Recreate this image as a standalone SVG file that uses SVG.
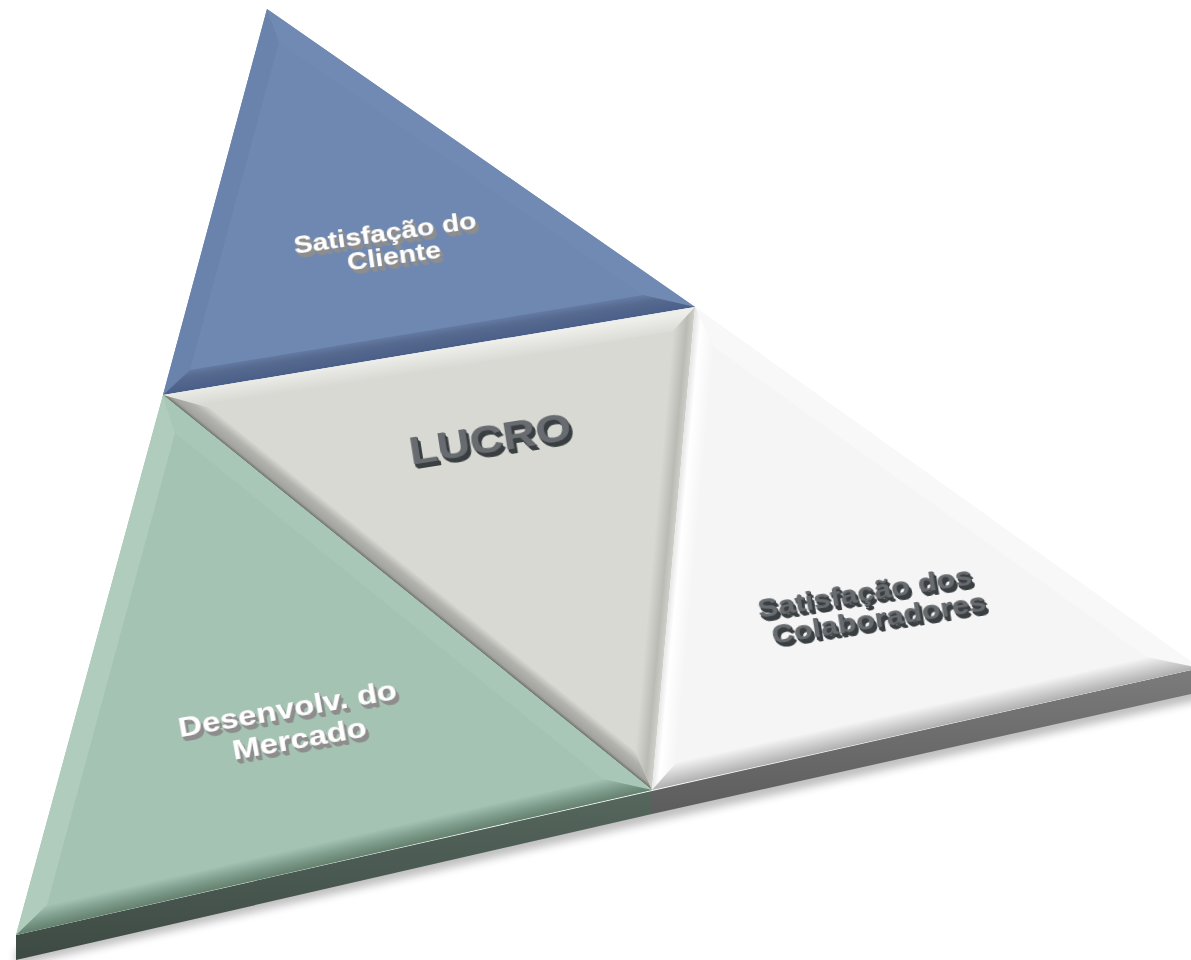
<svg xmlns="http://www.w3.org/2000/svg" width="1191" height="960" viewBox="0 0 1191 960">
<defs>
<style>
.lbl{font-family:"Liberation Sans",Arial,sans-serif;font-weight:bold;text-anchor:middle}
.w{fill:#ffffff}
.d{fill:#686c70}
</style>
<filter id="extW" x="-20%" y="-40%" width="140%" height="180%">
<feFlood flood-color="#8d8d8d" result="f"/>
<feComposite in="f" in2="SourceAlpha" operator="in" result="c"/>
<feOffset in="c" dx="0.6" dy="1.3" result="o1"/>
<feOffset in="c" dx="1.2" dy="2.6" result="o2"/>
<feOffset in="c" dx="1.8" dy="3.9" result="o3"/>
<feOffset in="c" dx="2.2" dy="4.6" result="o4"/>
<feMerge><feMergeNode in="o4"/><feMergeNode in="o3"/><feMergeNode in="o2"/><feMergeNode in="o1"/><feMergeNode in="SourceGraphic"/></feMerge>
</filter>
<filter id="extD" x="-20%" y="-40%" width="140%" height="180%">
<feFlood flood-color="#3a3f42" result="f"/>
<feComposite in="f" in2="SourceAlpha" operator="in" result="c"/>
<feOffset in="c" dx="0.6" dy="1.3" result="o1"/>
<feOffset in="c" dx="1.2" dy="2.6" result="o2"/>
<feOffset in="c" dx="1.8" dy="3.9" result="o3"/>
<feOffset in="c" dx="2.2" dy="4.6" result="o4"/>
<feMerge><feMergeNode in="o4"/><feMergeNode in="o3"/><feMergeNode in="o2"/><feMergeNode in="o1"/><feMergeNode in="SourceGraphic"/></feMerge>
</filter>
<filter id="blur" x="-10%" y="-50%" width="120%" height="200%"><feGaussianBlur stdDeviation="4"/></filter>
<linearGradient id="gBlueB" gradientUnits="userSpaceOnUse" x1="429" y1="351" x2="424.8" y2="325.3"><stop offset="0" stop-color="#4a5f88"/><stop offset="0.5" stop-color="#56698f"/><stop offset="1" stop-color="#6f88b1"/></linearGradient>
<linearGradient id="gGrayL" gradientUnits="userSpaceOnUse" x1="407.5" y1="592.5" x2="420.1" y2="576.9"><stop offset="0" stop-color="#6c6f6b"/><stop offset="0.18" stop-color="#a2a39e"/><stop offset="0.6" stop-color="#b2b3ad"/><stop offset="1" stop-color="#d8d9d3"/></linearGradient>
<linearGradient id="gGrayR" gradientUnits="userSpaceOnUse" x1="673.5" y1="548.5" x2="653.6" y2="546.7"><stop offset="0" stop-color="#cfd0ca"/><stop offset="0.35" stop-color="#babbb5"/><stop offset="1" stop-color="#d8d9d3"/></linearGradient>
<linearGradient id="gGrayT" gradientUnits="userSpaceOnUse" x1="429" y1="351" x2="432" y2="371"><stop offset="0" stop-color="#eeeeea"/><stop offset="1" stop-color="#d8d9d3"/></linearGradient>
<linearGradient id="gWhiteB" gradientUnits="userSpaceOnUse" x1="926" y1="729" x2="921.2" y2="707.5"><stop offset="0" stop-color="#b0b0b0"/><stop offset="0.5" stop-color="#d2d2d2"/><stop offset="1" stop-color="#f5f5f5"/></linearGradient>
<linearGradient id="gWhiteL" gradientUnits="userSpaceOnUse" x1="673.5" y1="548.5" x2="695.4" y2="550.5"><stop offset="0" stop-color="#e6e6e6"/><stop offset="0.3" stop-color="#ffffff"/><stop offset="1" stop-color="#f5f5f5"/></linearGradient>
<linearGradient id="gGreenB" gradientUnits="userSpaceOnUse" x1="334" y1="862.5" x2="329.1" y2="841"><stop offset="0" stop-color="#64806f"/><stop offset="0.5" stop-color="#819f8e"/><stop offset="1" stop-color="#a4c3b2"/></linearGradient>
<linearGradient id="gSideG" x1="0" y1="0" x2="0" y2="1"><stop offset="0" stop-color="#56675e"/><stop offset="1" stop-color="#3d4a43"/></linearGradient>
<linearGradient id="gSideW" x1="0" y1="0" x2="0" y2="1"><stop offset="0" stop-color="#7c7c7c"/><stop offset="1" stop-color="#5c5c5c"/></linearGradient>
</defs>
<rect width="1191" height="960" fill="#ffffff"/>
<polygon points="16,950 652,806 1200,684 1200,700 652,822 16,966" fill="#000" opacity="0.25" filter="url(#blur)"/>

<g id="node-cliente">
<polygon points="267,9 695,307 163,395" fill="#6f88b1"/>
<polygon points="267,9 163,395 190,370 279,42" fill="#6a83ad"/>
<polygon points="267,9 695,307 643,295 279,42" fill="#718ab3"/>
<polygon points="163,395 695,307 643,295 190,370" fill="url(#gBlueB)"/>
<text class="lbl w" filter="url(#extW)" font-size="24" transform="translate(386,241) rotate(-8) scale(1.18,1)">Satisfação do</text>
<text class="lbl w" filter="url(#extW)" font-size="24" transform="translate(395,264) rotate(-8) scale(1.18,1)">Cliente</text>
</g>

<g id="node-lucro">
<polygon points="163,395 695,307 652,790" fill="#d8d9d3"/>
<polygon points="163,395 695,307 673,331 210,408" fill="url(#gGrayT)"/>
<polygon points="163,395 652,790 635,751 210,408" fill="url(#gGrayL)"/>
<polygon points="695,307 652,790 635,751 673,331" fill="url(#gGrayR)"/>
<text class="lbl d" filter="url(#extD)" font-size="39" transform="translate(492,452) rotate(-9) scale(1.18,1)" fill="#62676b">LUCRO</text>
</g>

<g id="node-colaboradores">
<polygon points="16,935 652,791 652,814 16,960" fill="url(#gSideG)"/>
<polygon points="652,791 1200,668 1200,692 652,814" fill="url(#gSideW)"/>
<polygon points="695,307 1200,668 652,790" fill="#f5f5f5"/>
<polygon points="695,307 1200,668 1147,657 714,347" fill="#f8f8f8"/>
<polygon points="695,307 652,790 677,762 714,347" fill="url(#gWhiteL)"/>
<polygon points="652,790 1200,668 1147,657 677,762" fill="url(#gWhiteB)"/>
<text class="lbl d" filter="url(#extD)" font-size="26" transform="translate(866,601) rotate(-9) scale(1.18,1)">Satisfação dos</text>
<text class="lbl d" filter="url(#extD)" font-size="26" transform="translate(880,627) rotate(-9) scale(1.18,1)">Colaboradores</text>
</g>

<g id="node-mercado">
<polygon points="163,395 652,790 16,935" fill="#a4c3b2"/>
<polygon points="163,395 16,935 47,905 175,433" fill="#afccbc"/>
<polygon points="163,395 652,790 603,779 175,433" fill="#a8c7b6"/>
<polygon points="16,935 652,790 603,779 47,905" fill="url(#gGreenB)"/>
<text class="lbl w" filter="url(#extW)" font-size="28" transform="translate(289,718) rotate(-10) scale(1.18,1)">Desenvolv. do</text>
<text class="lbl w" filter="url(#extW)" font-size="28" transform="translate(301,748) rotate(-10) scale(1.18,1)">Mercado</text>
</g>

<g id="connectors"></g>
</svg>
